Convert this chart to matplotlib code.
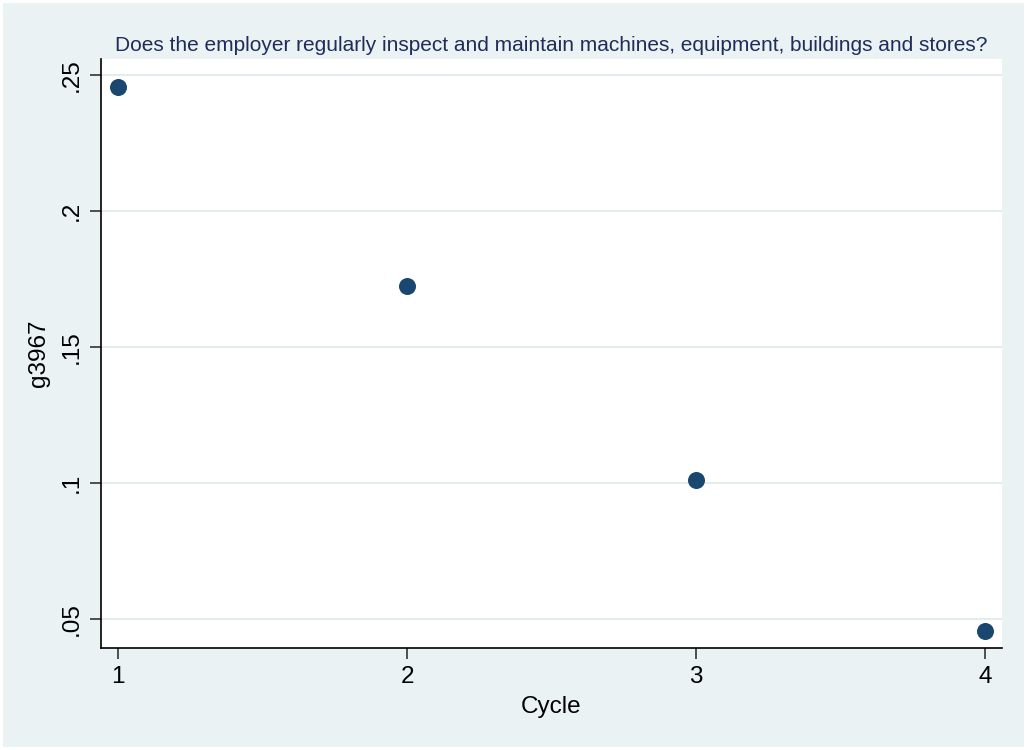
import matplotlib.pyplot as plt
from matplotlib.patches import Rectangle

plt.rcParams['font.family'] = ['Liberation Sans', 'DejaVu Sans']

cycles = [1, 2, 3, 4]
values = [0.2456, 0.1724, 0.1011, 0.0456]
yticks = [0.05, 0.1, 0.15, 0.2, 0.25]
ytick_labels = ['.05', '.1', '.15', '.2', '.25']
title = "Does the employer regularly inspect and maintain machines, equipment, buildings and stores?"

bg = '#EAF2F3'
navy = '#1A476F'

fig = plt.figure(figsize=(10.27, 7.5), dpi=100)
fig.patch.set_facecolor('white')
fig.patches.append(Rectangle((0.003, 0.004), 0.994, 0.992, transform=fig.transFigure,
                             facecolor=bg, edgecolor='none', zorder=-10))

ax = fig.add_axes([0.0983, 0.136, 0.8774, 0.7853])
ax.set_facecolor('white')
ax.scatter(cycles, values, s=150, color=navy, zorder=3, linewidths=0)

ax.set_xlim(0.941, 4.059)
ax.set_ylim(0.0393, 0.2559)
ax.set_xticks(cycles)
ax.set_yticks(yticks)
ax.set_yticklabels(ytick_labels, rotation=90, va='center')
ax.grid(axis='y', color='#E4ECEE', linewidth=1.5)
ax.set_axisbelow(True)

for s in ['top', 'right']:
    ax.spines[s].set_visible(False)
for s in ['left', 'bottom']:
    ax.spines[s].set_color('black')
    ax.spines[s].set_linewidth(1.2)

ax.tick_params(axis='both', length=8, width=1.2, color='#333333', labelsize=17.5, pad=5)
ax.set_xlabel('Cycle', fontsize=17.5, labelpad=6)
ax.set_ylabel('g3967', fontsize=17.5, labelpad=8)
ax.set_title(title, fontsize=15, color='#1E2D5A', pad=6)

fig.savefig('out.png', dpi=100)
